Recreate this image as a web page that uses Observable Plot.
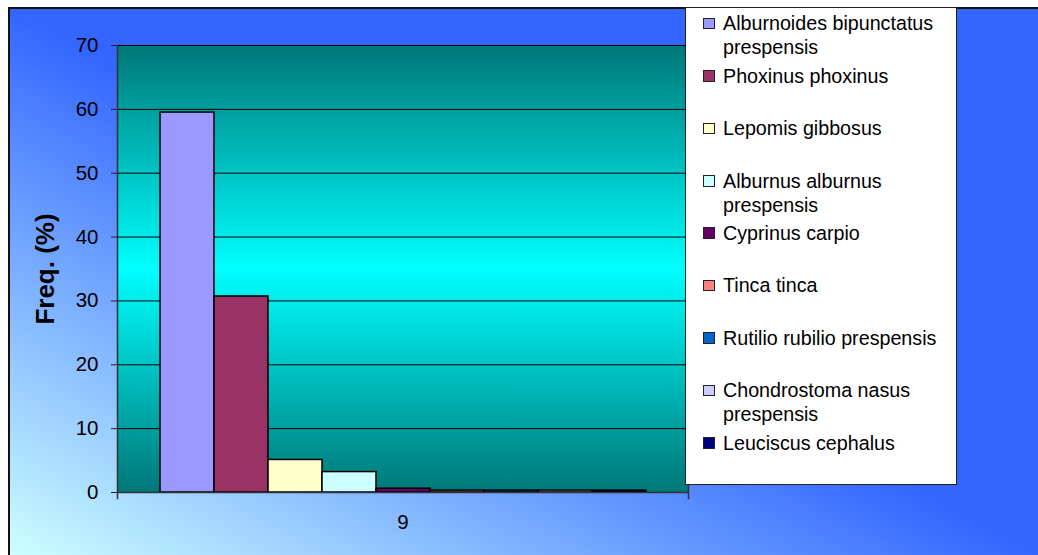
<!DOCTYPE html>
<html>
<head>
<meta charset="utf-8">
<script src="https://cdn.jsdelivr.net/npm/d3@7"></script>
<script src="https://cdn.jsdelivr.net/npm/@observablehq/plot@0.6"></script>
<style>
  html, body { margin: 0; padding: 0; background: #fff; }
  #wrap { position: relative; width: 1038px; height: 555px; overflow: hidden; background: #fff;
          font-family: Arial, "Liberation Sans", sans-serif; }
  #bg { position: absolute; left: 8px; top: 7px; width: 1030px; height: 548px; box-sizing: border-box;
        border-left: 2px solid #111; border-top: 2px solid #111;
        background: linear-gradient(to top right, #ccffff 0%, #3366ff 50%, #3366ff 100%); }
  #chart { position: absolute; left: 0; top: 0; }
  #legend { position: absolute; left: 685px; top: 7px; width: 272px; height: 478px; box-sizing: border-box;
            background: #fff; border: 1px solid #222; }
  .item { position: absolute; left: 0; width: 260px; font-size: 19.7px; line-height: 24px; color: #000; }
  .sw { position: absolute; left: 17px; top: 6.5px; width: 12px; height: 11.5px; box-sizing: border-box; border: 1.3px solid #222; }
  .lab { position: absolute; left: 37px; width: 226px; }
</style>
</head>
<body>
<div id="wrap">
  <div id="bg"></div>
  <div id="chart"></div>
  <div id="legend"></div>
</div>
<script>
const categories = ["9"];
const species = [
  "Alburnoides bipunctatus prespensis",
  "Phoxinus phoxinus",
  "Lepomis gibbosus",
  "Alburnus alburnus prespensis",
  "Cyprinus carpio",
  "Tinca tinca",
  "Rutilio rubilio prespensis",
  "Chondrostoma nasus prespensis",
  "Leuciscus cephalus"
];
const values = [59.5, 30.7, 5.1, 3.2, 0.6, 0.3, 0.3, 0.3, 0.3];
const colors = ["#9999FF", "#993366", "#FFFFCC", "#CCFFFF", "#660066", "#FF8080", "#0066CC", "#CCCCFF", "#000080"];
const yTicks = [0, 10, 20, 30, 40, 50, 60, 70];
const yLabel = "Freq. (%)";

const data = species.map((s, i) => ({species: s, value: values[i], group: categories[0]}));

const svg = Plot.plot({
  width: 1038,
  height: 555,
  marginLeft: 117,
  marginTop: 45,
  marginRight: 350,
  marginBottom: 63,
  style: {background: "transparent", fontFamily: "Arial, 'Liberation Sans', sans-serif", fontSize: "20px", color: "#000", overflow: "visible"},
  x: {domain: species, padding: 0, insetLeft: 41, insetRight: 41, axis: null},
  y: {domain: [0, 70], axis: null},
  color: {domain: species, range: colors},
  marks: [
    Plot.frame({fill: "url(#plotbg)", stroke: null}),
    Plot.gridY(yTicks.filter(d => d > 0), {stroke: "#000", strokeOpacity: 1, strokeWidth: 1}),
    Plot.barY(data, {x: "species", y: "value", fill: "species", stroke: "#000", strokeWidth: 1.5}),
    Plot.ruleY([0], {stroke: "#333", strokeWidth: 1.5}),
    Plot.frame({anchor: "left", stroke: "#333", strokeWidth: 1.5, insetBottom: -6}),
    Plot.frame({anchor: "right", stroke: "#333", strokeWidth: 1.5, insetBottom: -6}),
    Plot.axisY(yTicks, {tickSize: 6, tickPadding: 13, fontSize: 20.5, label: null, stroke: "#222", fill: "#000"}),
    Plot.text([yLabel], {frameAnchor: "left", rotate: -90, dx: -72, fontWeight: "bold", fontSize: 26, textAnchor: "middle", lineAnchor: "middle", fill: "#000"}),
    Plot.text(categories, {frameAnchor: "bottom", dy: 36, fontSize: 20.5, fill: "#000"})
  ]
});

const ns = "http://www.w3.org/2000/svg";
const defs = document.createElementNS(ns, "defs");
defs.innerHTML = `<linearGradient id="plotbg" x1="0" y1="0" x2="0" y2="1">
  <stop offset="0" stop-color="#007777"/>
  <stop offset="0.5" stop-color="#00ffff"/>
  <stop offset="1" stop-color="#007777"/>
</linearGradient>`;
svg.insertBefore(defs, svg.firstChild);
document.getElementById("chart").appendChild(svg);

// legend
const legend = document.getElementById("legend");
species.forEach((s, i) => {
  const item = document.createElement("div");
  item.className = "item";
  item.style.top = (3.3 + 52.4 * i) + "px";
  const sw = document.createElement("div");
  sw.className = "sw";
  sw.style.background = colors[i];
  const lab = document.createElement("div");
  lab.className = "lab";
  lab.textContent = s;
  item.appendChild(sw);
  item.appendChild(lab);
  legend.appendChild(item);
});
</script>
</body>
</html>
